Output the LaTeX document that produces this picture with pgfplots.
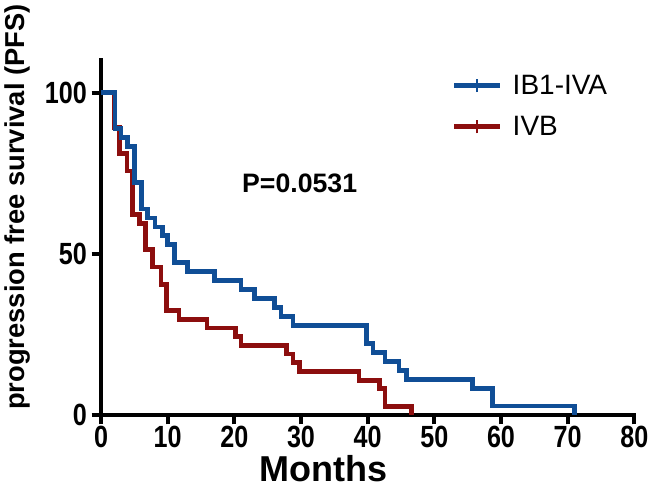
\documentclass[border=0pt]{standalone}
\usepackage{fontspec}
\setmainfont{Liberation Sans}
\newfontfamily\condfont{Liberation Sans}[FakeStretch=0.82]
\usepackage{pgfplots}
\pgfplotsset{compat=1.18}
\definecolor{kmblue}{RGB}{16,78,150}
\definecolor{kmred}{RGB}{140,14,14}
\begin{document}
\begin{tikzpicture}
\begin{axis}[name=ax, scale only axis, width=400pt, height=266pt,
 xmin=0, xmax=80, ymin=0, ymax=110,
 axis lines=left, axis line style={line width=3pt, -, line cap=rect},
 xtick={0,10,...,80}, ytick={0,50,100},
 tick style={line width=3pt, black}, tick align=outside,
 major tick length=7pt,
 /pgf/number format/assume math mode=true,
 ticklabel style={font=\condfont\fontsize{23}{23}\selectfont\bfseries},
 xticklabel style={yshift=2pt},
 xlabel={Months}, ylabel={progression free survival (PFS)},
 xlabel style={font=\fontsize{27}{27}\selectfont\bfseries, at={(rel axis cs:0.418,-0.15)}, anchor=center},
 ylabel style={font=\fontsize{20.5}{20.5}\selectfont\bfseries, at={(rel axis cs:-0.156,0.586)}, anchor=center},
 legend style={at={(rel axis cs:0.65,0.975)}, anchor=north west, draw=none, fill=none,
   font=\fontsize{21}{21}\selectfont, row sep=11pt},
 legend cell align=left, reverse legend,
 legend image code/.code={\draw[#1, line cap=butt] (0pt,0pt) -- (34pt,0pt);
   \draw[#1, line width=2pt, line cap=butt] (17pt,-5pt) -- (17pt,5pt);},
 clip=false,
]
\addplot[kmred, line width=3.6pt, const plot, line join=miter] coordinates {
(0,100)(2,89.2)(2.8,81.1)(3.9,75.7)(4.7,62.2)(5.8,59.5)(6.7,51.4)(7.7,45.9)(9,40.5)(9.8,32.4)(11.7,29.7)(15.9,27)(20.2,24.3)(21,21.6)(27.8,18.9)(28.8,16.2)(29.8,13.5)(38.7,10.8)(41.8,8.1)(42.6,2.7)(46.6,0)};
\addlegendentry{\hspace{6pt}IVB}
\addplot[kmblue, line width=3.6pt, const plot, line join=miter] coordinates {
(0,100)(2.1,88.9)(3,86.1)(4,83.3)(5,72.2)(6.1,63.9)(7,61.1)(8.1,58.3)(9.2,55.6)(10,52.8)(11,47.2)(13,44.4)(17,41.7)(21,38.9)(23,36.1)(26,33.3)(27,30.6)(28.8,27.8)(39.8,22.2)(40.8,19.4)(42.6,16.7)(44.7,13.9)(45.8,11.1)(55.7,8.3)(58.7,2.8)(71,0)};
\addlegendentry{\hspace{6pt}IB1-IVA}
\node[font=\fontsize{20}{20}\selectfont\bfseries] at (axis cs:29.8,71.8) {P=0.0531};
\end{axis}
\pgfresetboundingbox
\path ([shift={(-75.75pt,-64.5pt)}]ax.south west) rectangle ([shift={(411.75pt,311.25pt)}]ax.south west);
\end{tikzpicture}
\end{document}
